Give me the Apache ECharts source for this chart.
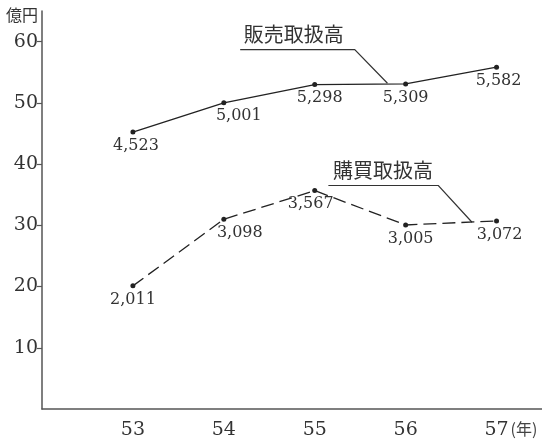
<!DOCTYPE html>
<html><head><meta charset="utf-8">
<script src="https://cdn.jsdelivr.net/npm/echarts@6/dist/echarts.min.js"></script>
<style>html,body{margin:0;padding:0;background:#fff}#c{width:542px;height:444px}</style>
</head><body><div id="c"></div>
<script>
// 年 (昭和)
const years = [53, 54, 55, 56, 57];
// 百万円
const salesValues = [4523, 5001, 5298, 5309, 5582];       // 販売取扱高
const purchaseValues = [2011, 3098, 3567, 3005, 3072];    // 購買取扱高
const yTicks = [10, 20, 30, 40, 50, 60];
const salesName = '販売取扱高';
const purchaseName = '購買取扱高';
const yUnit = '億円';
const xUnit = '(年)';

// label nudges (style only)
const salesLabelDx = [3, 15, 5, 0, 2];
const purchaseLabelDx = [0, 16, -4, 5, 3];

const serif = '"DejaVu Serif","Liberation Serif",serif';
const jp = '"Noto Sans CJK JP","Noto Sans CJK SC",sans-serif';
const ink = '#222';

function toItems(vals, dx){
  return years.map((y,i)=>({value:[y, vals[i]/100, vals[i]], label:{offset:[dx[i],0]}}));
}
const labelStyle = {show:true, position:'bottom', distance:3, color:'#333', fontFamily:serif, fontSize:16,
  formatter:p=>p.data.value[2].toLocaleString('en-US')};

const chart = echarts.init(document.getElementById('c'));
chart.setOption({
  backgroundColor:'#fff',
  animation:false,
  grid:{left:42, right:0, top:11, bottom:35},
  xAxis:{
    type:'value', min:52, max:57.5, interval:1,
    axisLine:{show:true, lineStyle:{color:'#555', width:1.5}},
    axisTick:{show:false},
    splitLine:{show:false},
    axisLabel:{customValues: years, color:'#333', fontFamily:serif, fontSize:19, margin:12}
  },
  yAxis:{
    type:'value', min:0, max:65, interval:10,
    axisLine:{show:true, lineStyle:{color:'#555', width:1.5}},
    axisTick:{show:true, customValues:yTicks, length:5, lineStyle:{color:'#555', width:1.2}},
    splitLine:{show:false},
    axisLabel:{customValues:yTicks, color:'#333', fontFamily:serif, fontSize:19, margin:4}
  },
  series:[
    {
      type:'line', name:salesName, data:toItems(salesValues, salesLabelDx),
      symbol:'circle', symbolSize:5,
      itemStyle:{color:ink},
      lineStyle:{color:ink, width:1.3, type:'solid'},
      label:labelStyle
    },
    {
      type:'line', name:purchaseName, data:toItems(purchaseValues, purchaseLabelDx),
      symbol:'circle', symbolSize:5,
      itemStyle:{color:ink},
      lineStyle:{color:ink, width:1.3, type:[13,6]},
      label:labelStyle
    }
  ]
});

// annotations, placed through the chart's own scales
const P = (x,y)=>chart.convertToPixel({gridIndex:0},[x,y]);
const salesLeader = [[54.18,58.7],[55.44,58.7],[55.8,53.2]];
const purchLeader = [[55.15,36.5],[56.36,36.5],[56.73,30.5]];
const salesText = P(54.22,61.2);
const purchText = P(55.2,38.9);
const yUnitPos = P(52,64.4);
const xUnitPos = P(57,0);
chart.setOption({
  graphic:[
    {type:'polyline', shape:{points:salesLeader.map(p=>P(p[0],p[1]))}, style:{stroke:'#333', lineWidth:1.2, fill:null}},
    {type:'polyline', shape:{points:purchLeader.map(p=>P(p[0],p[1]))}, style:{stroke:'#333', lineWidth:1.2, fill:null}},
    {type:'text', x:salesText[0], y:salesText[1], style:{text:salesName, font:'20px '+jp, fill:'#333', textVerticalAlign:'middle'}},
    {type:'text', x:purchText[0], y:purchText[1], style:{text:purchaseName, font:'20px '+jp, fill:'#333', textVerticalAlign:'middle'}},
    {type:'text', x:yUnitPos[0]-4, y:yUnitPos[1], style:{text:yUnit, font:'16px '+jp, fill:'#333', textAlign:'right', textVerticalAlign:'middle'}},
    {type:'text', x:xUnitPos[0]+14, y:xUnitPos[1]+20, style:{text:xUnit, font:'16px '+jp, fill:'#444', textAlign:'left', textVerticalAlign:'middle'}}
  ]
});
</script>
</body></html>
